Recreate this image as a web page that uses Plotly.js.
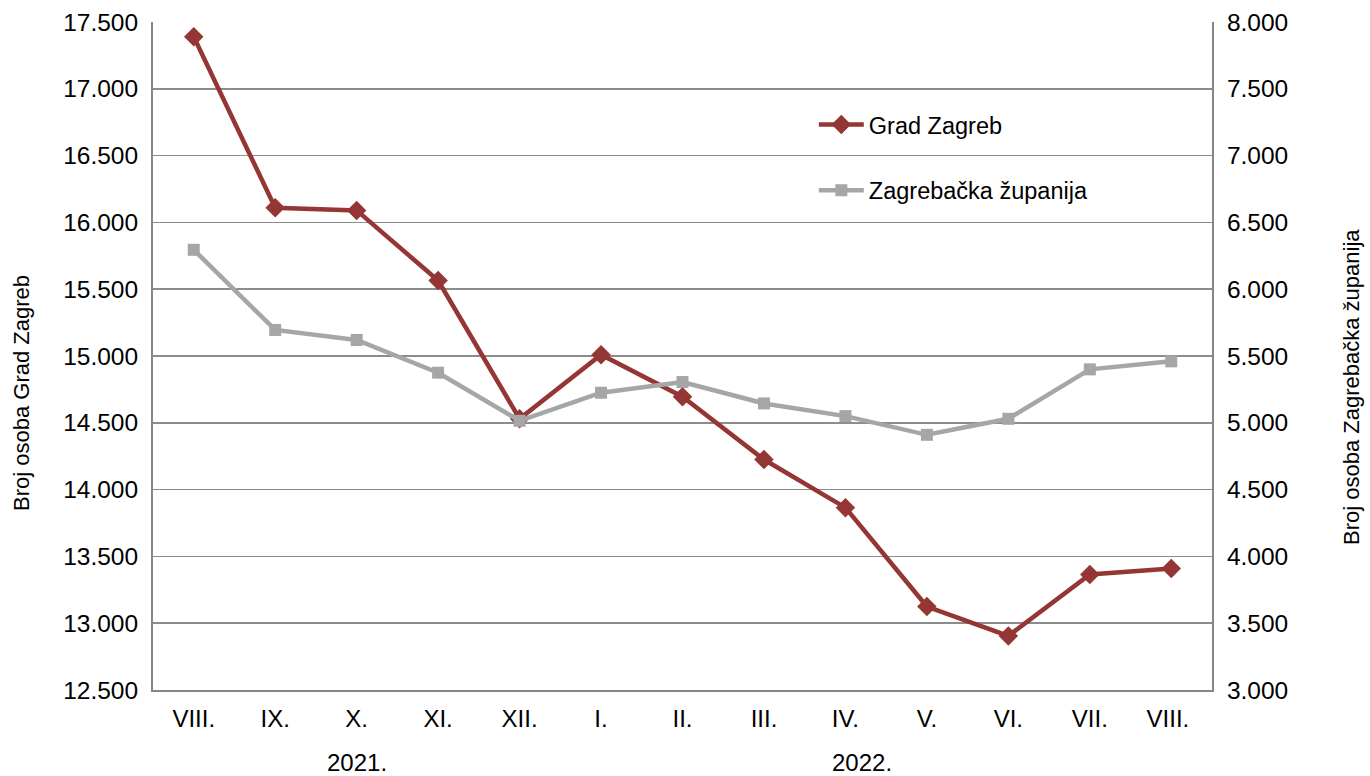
<!DOCTYPE html>
<html><head><meta charset="utf-8">
<script src="https://cdn.plot.ly/plotly-3.0.1.min.js"></script>
<style>body{margin:0;background:#fff}#c{width:1370px;height:776px}</style>
</head><body><div id="c"></div>
<script>
const months = ["VIII.","IX.","X.","XI.","XII.","I.","II.","III.","IV.","V.","VI.","VII.","VIII. "];
const gradZagreb = [17390,16110,16090,15565,14530,15010,14695,14225,13865,13125,12905,13365,13410];
const zagrebackaZupanija = [6295,5695,5620,5375,5015,5225,5305,5145,5050,4910,5030,5400,5460];
const years = ["2021.","2022."];
const yearPos = [2, 8.2];
const leftTitle = "Broj osoba Grad Zagreb";
const rightTitle = "Broj osoba Zagrebačka županija";

const font = "Liberation Sans, Arial, sans-serif";
const traces = [
  {x: months, y: gradZagreb, name: "Grad Zagreb", type: "scatter", mode: "lines+markers",
   line: {color: "#943634", width: 4.5}, marker: {symbol: "diamond", size: 15, color: "#943634"},
   legendgroup: "a"},
  {x: months, y: zagrebackaZupanija, name: "Zagrebačka županija", type: "scatter", mode: "lines+markers",
   yaxis: "y2", line: {color: "#A6A6A6", width: 4.5}, marker: {symbol: "square", size: 12, color: "#A6A6A6"},
   legendgroup: "b"}
];
const annotations = years.map((t, i) => ({text: t, x: yearPos[i], y: 0, xref: "x", yref: "paper",
    yanchor: "top", yshift: -57, showarrow: false, font: {size: 24}}));
annotations.push({text: leftTitle, textangle: -90, xref: "paper", yref: "paper",
  x: (21 - 153) / 1059, y: (690 - 393) / 668, xanchor: "center", yanchor: "middle", showarrow: false, font: {size: 22}});
annotations.push({text: rightTitle, textangle: -90, xref: "paper", yref: "paper",
  x: (1352 - 153) / 1059, y: (690 - 387) / 668, xanchor: "center", yanchor: "middle", showarrow: false, font: {size: 22}});

const layout = {
  width: 1370, height: 776,
  margin: {l: 153, r: 158, t: 22, b: 86},
  separators: ",.",
  font: {family: font, size: 24, color: "#000"},
  paper_bgcolor: "#fff", plot_bgcolor: "#fff",
  xaxis: {type: "category", showgrid: false, showline: true, linecolor: "#868686", linewidth: 2,
          ticks: "", tickfont: {size: 24}, range: [-0.5, 12.5], fixedrange: true, ticklabelstandoff: 6},
  yaxis: {range: [12500, 17500], dtick: 500, tickformat: ",d", showgrid: true, gridcolor: "#8c8c8c", gridwidth: 1.5,
          showline: true, linecolor: "#868686", linewidth: 2, ticks: "", zeroline: false,
          tickfont: {size: 24.5}, ticklabelstandoff: 8},
  yaxis2: {range: [3000, 8000], dtick: 500, tickformat: ",d", overlaying: "y", side: "right", showgrid: false,
           showline: true, linecolor: "#868686", linewidth: 2, ticks: "", zeroline: false,
           tickfont: {size: 24.5}, ticklabelstandoff: 8},
  showlegend: true,
  legend: {x: 0.624, y: 0.879, xanchor: "left", yanchor: "top", bgcolor: "rgba(0,0,0,0)",
           font: {size: 23.5}, tracegroupgap: 32, traceorder: "grouped", itemwidth: 45},
  annotations: annotations
};
Plotly.newPlot("c", traces, layout, {displayModeBar: false, staticPlot: true});
</script></body></html>
